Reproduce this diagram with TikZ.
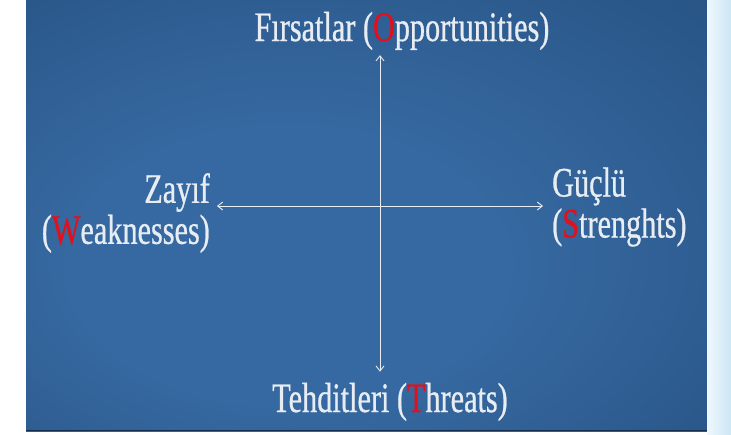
\documentclass[tikz,border=0pt]{standalone}
\usepackage{fontspec}
\newfontfamily\slidefont[FakeStretch=0.72, FakeBold=0.6]{Liberation Serif}
\usetikzlibrary{arrows.meta, positioning}
\definecolor{paneldark}{HTML}{1C426E}
\definecolor{panelmid}{HTML}{3669A1}
\definecolor{inkwhite}{HTML}{E8EDF3}
\definecolor{keyred}{HTML}{E3101C}
\definecolor{stripa}{HTML}{EEF8FD}
\definecolor{stripb}{HTML}{CDE6F5}
\pgfdeclareradialshading{panelglow}{\pgfpoint{-8bp}{-8bp}}{color(0bp)=(panelmid); color(16bp)=(panelmid); color(60bp)=(paneldark)}
\begin{document}
\begin{tikzpicture}[x=1pt, y=-1pt,
    lbl/.style={text=inkwhite, font=\slidefont\fontsize{42}{41}\selectfont,
                inner sep=2pt},
    arr/.style={{Straight Barb[length=5pt,width=8pt]}-{Straight Barb[length=5pt,width=8pt]},
                draw=inkwhite, line width=0.9pt},
  ]
    % Zemin
    \useasboundingbox (0,0) rectangle (731,434);
    \shade[shading=panelglow] (26,0) rectangle (707,431);
    \draw[paneldark!70!black, line width=1pt] (26,430.5) -- (707,430.5);
    \shade[left color=stripa, right color=stripb] (707,0) rectangle (731,434);

    % Eksenlerin kesisimi
    \coordinate (mid) at (380,206);

    % Etiketler
    \node[lbl, anchor=base] (opp) at (402,41)
      {Fırsatlar (\textcolor{keyred}{O}pportunities)};
    \node[lbl, anchor=base] (thr) at (390,412)
      {Tehditleri (\textcolor{keyred}{T}hreats)};
    \node[lbl, align=right, anchor=east] (weak) at (212,213)
      {Zayıf\\(\textcolor{keyred}{W}eaknesses)};
    \node[lbl, align=left, anchor=west] (str) at (550,207)
      {Güçlü\\(\textcolor{keyred}{S}trenghts)};

    % Oklar
    \draw[arr] ([yshift=-3pt]mid |- opp.south) -- ([yshift=9pt]mid |- thr.north);
    \draw[arr] ([xshift=5pt]weak.east |- mid) -- ([xshift=-7pt]str.west |- mid);
  \end{tikzpicture}
\end{document}
